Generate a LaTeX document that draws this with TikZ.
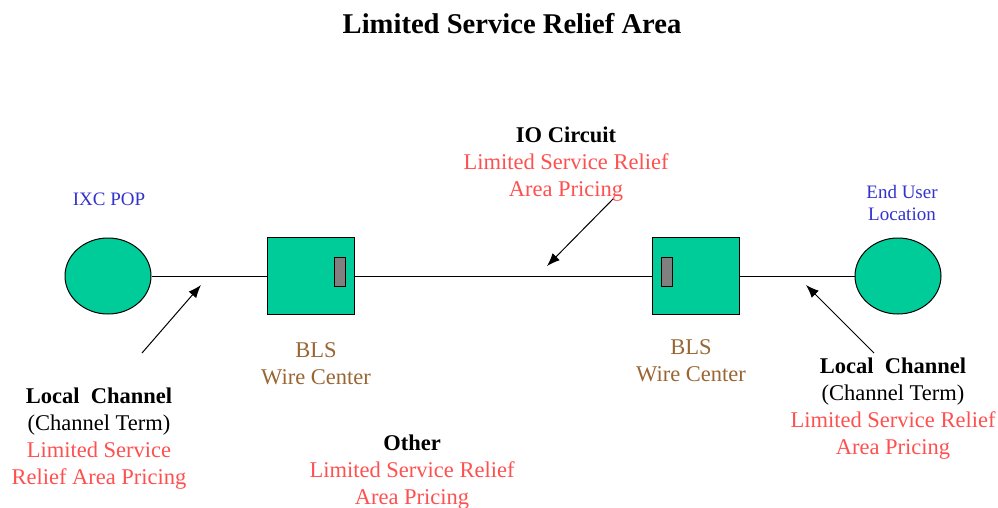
\documentclass[tikz,border=0pt]{standalone}
\usepackage{fontspec}
\setmainfont{Liberation Serif}
\usetikzlibrary{shapes.geometric,arrows.meta}
\definecolor{sitegreen}{HTML}{00CC99}
\definecolor{portgray}{HTML}{808080}
\definecolor{popblue}{HTML}{3333CC}
\definecolor{pricered}{HTML}{FF5050}
\definecolor{wirebrown}{HTML}{996633}
\tikzset{
  site/.style={ellipse,draw=black,line width=1pt,fill=sitegreen,minimum width=86,minimum height=76,inner sep=0},
  wirebox/.style={rectangle,draw=black,line width=1pt,fill=sitegreen,minimum width=87,minimum height=77,inner sep=0},
  port/.style={rectangle,draw=black,line width=0.8pt,fill=portgray,minimum width=11,minimum height=29,inner sep=0},
  bigtext/.style={inner sep=0,align=center,font=\fontsize{22.5}{27}\selectfont},
  smalltext/.style={inner sep=0,align=center,text=popblue,font=\fontsize{19}{22}\selectfont},
  pricetext/.style={bigtext,text=pricered},
  wiretext/.style={bigtext,text=wirebrown},
  link/.style={line width=1pt},
  pointer/.style={line width=1pt,-{Latex[length=13pt,width=10pt]}}
}
\begin{document}
\begin{tikzpicture}[x=1pt,y=-1pt]
\useasboundingbox (0,0) rectangle (998,508);
\node[inner sep=0,font=\fontsize{28.6}{32}\selectfont\bfseries] (title) at (512,24) {Limited Service Relief Area};

\node[site] (pop) at (108,276) {};
\node[site] (user) at (898,276) {};
\node[wirebox] (wcleft) at (310.5,276) {};
\node[wirebox] (wcright) at (695.5,276) {};
\node[port] (portleft) at (339.5,272) {};
\node[port] (portright) at (666.5,272) {};
\draw[link] (pop) -- (wcleft);
\draw[link] (wcleft) -- (wcright);
\draw[link] (wcright) -- (user);

\node[smalltext] (poplabel) at (109,199) {IXC POP};
\node[smalltext] (userlabel) at (902,203) {End User\\Location};
\node[wiretext] (wcleftlabel) at (316,364) {BLS\\Wire Center};
\node[wiretext] (wcrightlabel) at (691,361) {BLS\\Wire Center};

\node[pricetext] (iolabel) at (566,164) {\textcolor{black}{\bfseries IO Circuit}\\Limited Service Relief\\Area Pricing};
\node[pricetext] (lcleft) at (99,439) {\textcolor{black}{\bfseries Local\ \ Channel}\\\textcolor{black}{(Channel Term)}\\Limited Service\\Relief Area Pricing};
\node[pricetext] (lcright) at (893,409) {\textcolor{black}{\bfseries Local\ \ Channel}\\\textcolor{black}{(Channel Term)}\\Limited Service Relief\\Area Pricing};
\node[pricetext] (other) at (412,472) {\textcolor{black}{\bfseries Other}\\Limited Service Relief\\Area Pricing};

\coordinate (iotail) at (613,199);
\coordinate (iotip) at (547,266);
\coordinate (lclefttail) at (142,353);
\coordinate (lclefttip) at (201,285);
\coordinate (lcrighttail) at (874,353);
\coordinate (lcrighttip) at (806,285);
\draw[pointer] (iotail) -- (iotip);
\draw[pointer] (lclefttail) -- (lclefttip);
\draw[pointer] (lcrighttail) -- (lcrighttip);
\end{tikzpicture}
\end{document}
